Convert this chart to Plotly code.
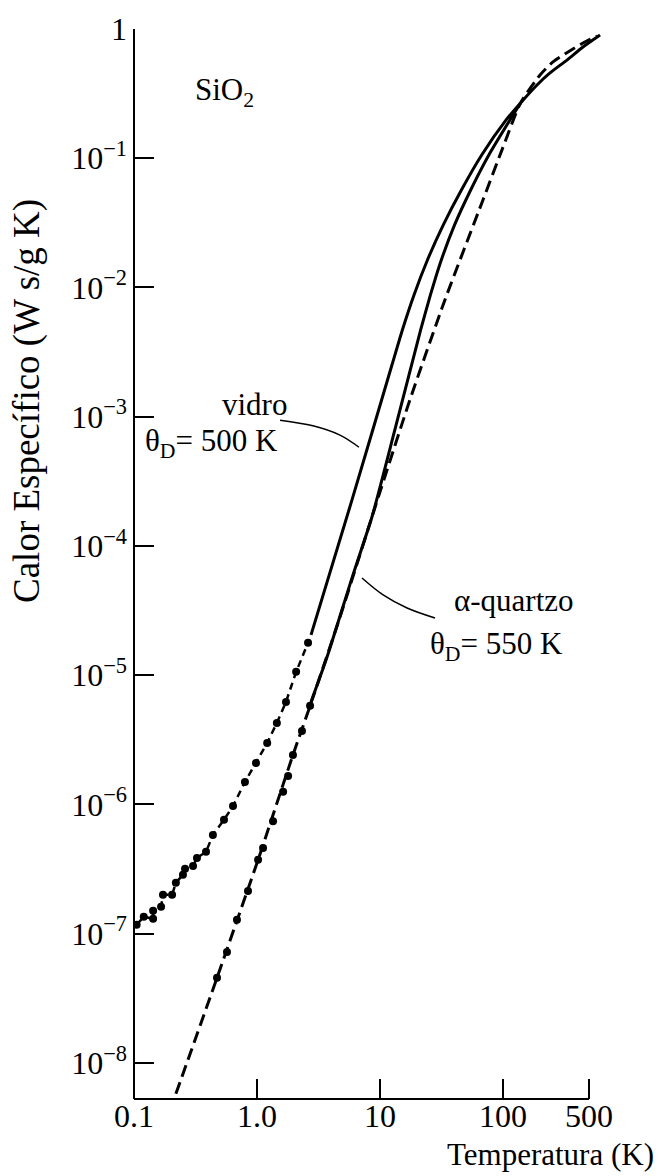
import numpy as np
import plotly.graph_objects as go

# ---- data -------------------------------------------------------------
# vitreous silica (vidro): measured points, K and W s/(g K)
vidro_T = [0.105, 0.120, 0.143, 0.143, 0.166, 0.172, 0.204, 0.219, 0.250, 0.260,
           0.302, 0.325, 0.385, 0.438, 0.539, 0.638, 0.798, 0.981, 1.21, 1.45,
           1.72, 2.08, 2.60]
vidro_C = [1.17e-7, 1.35e-7, 1.30e-7, 1.50e-7, 1.61e-7, 2.0e-7, 2.0e-7, 2.47e-7,
           2.85e-7, 3.17e-7, 3.34e-7, 3.85e-7, 4.29e-7, 5.8e-7, 7.6e-7, 9.7e-7,
           1.49e-6, 2.09e-6, 2.99e-6, 4.27e-6, 6.2e-6, 1.06e-5, 1.78e-5]

# vitreous silica: smooth curve at higher temperature
vidro_fit_T = [2.75, 5.92, 12.5, 15.2, 18.9, 24.3, 32.7, 45.9, 67.1, 106, 139,
               189, 241, 331, 447, 615]
vidro_fit_C = [2.05e-5, 2.27e-4, 2.51e-3, 4.69e-3, 8.75e-3, 1.63e-2, 3.05e-2,
               5.68e-2, 0.106, 0.198, 0.268, 0.369, 0.457, 0.575, 0.726, 0.899]

# alpha-quartz: measured points
quartz_T = [0.473, 0.570, 0.687, 0.845, 1.02, 1.12, 1.35, 1.63, 1.79, 1.96, 2.32, 2.70]
quartz_C = [4.55e-8, 7.2e-8, 1.28e-7, 2.14e-7, 3.72e-7, 4.6e-7, 7.4e-7, 1.25e-6,
            1.66e-6, 2.41e-6, 3.7e-6, 5.8e-6]

# alpha-quartz: smooth curve at higher temperature
quartz_fit_T = [2.75, 3.71, 6.03, 8.61, 13.2, 21.4, 25.7, 31.5, 40.4, 54.6, 76.7,
                114, 139]
quartz_fit_C = [6.21e-6, 1.38e-5, 5.97e-5, 1.68e-4, 7.9e-4, 4.69e-3, 8.75e-3,
                1.63e-2, 3.05e-2, 5.68e-2, 0.106, 0.198, 0.268]

# Debye model, theta_D = 550 K
debye_T = [0.219, 0.473, 1.02, 1.96, 2.70, 4.73, 8.61, 17.5, 33.7, 68.7, 98.1,
           139, 200, 255, 338, 447, 581]
debye_C = [5.75e-9, 4.55e-8, 3.72e-7, 2.41e-6, 5.78e-6, 2.82e-5, 1.68e-4, 1.35e-3,
           8.0e-3, 4.75e-2, 0.116, 0.268, 0.441, 0.556, 0.664, 0.779, 0.883]

# leader lines from the labels to the curves
vidro_leader_T = [1.54, 2.85, 4.73, 6.75]
vidro_leader_C = [9.4e-4, 8.5e-4, 7.2e-4, 5.8e-4]
quartz_leader_T = [7.14, 10.6, 16.6, 28.0]
quartz_leader_C = [5.65e-5, 4.18e-5, 3.31e-5, 2.77e-5]

# axis ticks
x_ticks = [0.1, 1, 10, 100, 500]
x_ticktext = ["0.1", "1.0", "10", "100", "500"]
y_ticks = [1e-8, 1e-7, 1e-6, 1e-5, 1e-4, 1e-3, 1e-2, 1e-1, 1]
y_ticktext = ["10<sup>−8</sup>", "10<sup>−7</sup>", "10<sup>−6</sup>", "10<sup>−5</sup>",
              "10<sup>−4</sup>", "10<sup>−3</sup>", "10<sup>−2</sup>", "10<sup>−1</sup>", "1"]

# ---- layout geometry ---------------------------------------------------
W, H = 664, 1176
L, R, T, B = 134, 603, 29, 1099          # plot-area edges in pixels
x_range = [-1, np.log10(650)]
y_range = [-8.28, 0.0]
FONT = "Liberation Serif, Times New Roman, serif"
INK = "black"


def px(xp):
    return (xp - L) / (R - L)


def py(yp):
    return (B - yp) / (B - T)


fig = go.Figure()

# Debye curve (dashed)
fig.add_trace(go.Scatter(x=debye_T, y=debye_C, mode="lines",
                         line=dict(color=INK, width=3, dash="12px,6px", shape="spline",
                                   smoothing=0.6),
                         hoverinfo="skip"))
# quartz smooth curve
fig.add_trace(go.Scatter(x=quartz_fit_T, y=quartz_fit_C, mode="lines",
                         line=dict(color=INK, width=3, shape="spline", smoothing=0.6),
                         hoverinfo="skip"))
# vidro smooth curve
fig.add_trace(go.Scatter(x=vidro_fit_T, y=vidro_fit_C, mode="lines",
                         line=dict(color=INK, width=3, shape="spline", smoothing=0.6),
                         hoverinfo="skip"))
# vidro measured points, joined by a dashed line
fig.add_trace(go.Scatter(x=vidro_T, y=vidro_C, mode="lines+markers",
                         line=dict(color=INK, width=2.5, dash="7px,5px"),
                         marker=dict(color=INK, size=8),
                         cliponaxis=True, hoverinfo="skip"))
# quartz measured points
fig.add_trace(go.Scatter(x=quartz_T, y=quartz_C, mode="markers",
                         marker=dict(color=INK, size=8), hoverinfo="skip"))
# leader lines
for lt, lc in ((vidro_leader_T, vidro_leader_C), (quartz_leader_T, quartz_leader_C)):
    fig.add_trace(go.Scatter(x=lt, y=lc, mode="lines",
                             line=dict(color=INK, width=1.5, shape="spline"),
                             hoverinfo="skip"))

# axis lines: y from the bottom up to 1, x from 0.1 to 500
x500 = (np.log10(500) - x_range[0]) / (x_range[1] - x_range[0])
fig.add_shape(type="line", xref="paper", yref="paper", x0=0, x1=x500, y0=0, y1=0,
              line=dict(color=INK, width=2))
fig.add_shape(type="line", xref="paper", yref="paper", x0=0, x1=0, y0=0, y1=1,
              line=dict(color=INK, width=2))

tick_font = dict(family=FONT, size=32, color=INK)
fig.update_xaxes(type="log", range=x_range, tickvals=x_ticks, ticktext=x_ticktext,
                 ticks="inside", ticklen=20, tickwidth=1.5, tickcolor=INK,
                 showgrid=False, zeroline=False, showline=False,
                 tickfont=tick_font, ticklabelstandoff=-5)
fig.update_yaxes(type="log", range=y_range, tickvals=y_ticks, ticktext=y_ticktext,
                 ticks="inside", ticklen=20, tickwidth=1.5, tickcolor=INK,
                 showgrid=False, zeroline=False, showline=False,
                 tickfont=tick_font, ticklabelstandoff=6)

lab_font = dict(family=FONT, size=31, color=INK)
labels = [
    ("SiO<sub>2</sub>", 193, 92, "left"),
    ("vidro", 220, 404, "left"),
    ("θ<sub>D</sub>= 500 K", 143, 443, "left"),
    ("α-quartzo", 452, 600, "left"),
    ("θ<sub>D</sub>= 550 K", 428, 646, "left"),
    ("Temperatura (K)", 656, 1154, "right"),
]
for text, xp, yp, anchor in labels:
    fig.add_annotation(text=text, xref="paper", yref="paper", x=px(xp), y=py(yp),
                       xanchor=anchor, yanchor="middle", showarrow=False, font=lab_font)

fig.add_annotation(text="Calor Específico (W s/g K)", xref="paper", yref="paper",
                   x=px(27), y=py(401), xanchor="center", yanchor="middle",
                   textangle=-90, showarrow=False,
                   font=dict(family=FONT, size=37, color=INK))

fig.update_layout(width=W, height=H, showlegend=False,
                  margin=dict(l=L, r=W - R, t=T, b=H - B, pad=0),
                  paper_bgcolor="white", plot_bgcolor="white")

fig.write_html("out.html")
